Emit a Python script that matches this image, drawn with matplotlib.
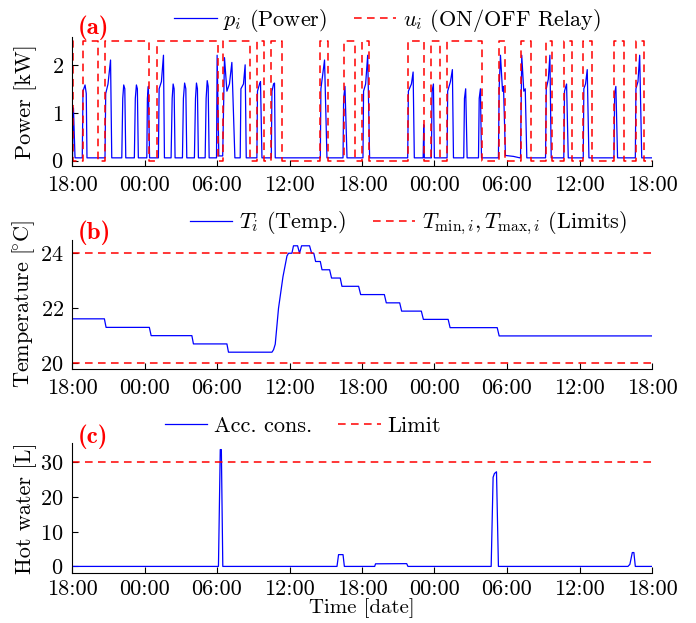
import matplotlib
matplotlib.use("Agg")
import matplotlib.pyplot as plt
import numpy as np

plt.rcParams['font.family'] = 'cmr10'
plt.rcParams['mathtext.fontset'] = 'cm'
plt.rcParams['axes.unicode_minus'] = False
plt.rcParams['axes.formatter.use_mathtext'] = True

# time axis: hours since 18:00 of the first day
tick_hours = [0, 6, 12, 18, 24, 30, 36, 42, 48]
tick_labels = ['18:00', '00:00', '06:00', '12:00', '18:00',
               '00:00', '06:00', '12:00', '18:00']

# (a) power trace breakpoints [h], [kW]
power_t = [0, 0.04, 0.12, 0.25,
           0.85, 0.91, 1.08, 1.18, 1.24,
           2.73, 2.79, 2.98, 3.19, 3.29,
           4.12, 4.20, 4.28, 4.37, 4.45,
           5.16, 5.24, 5.33, 5.41, 5.49,
           6.19, 6.24, 6.32, 6.42,
           7.15, 7.21, 7.40, 7.57, 7.65,
           8.20, 8.29, 8.37, 8.45, 8.53,
           9.14, 9.22, 9.32, 9.42, 9.50,
           10.13, 10.22, 10.30, 10.38, 10.46,
           11.02, 11.10, 11.19, 11.27, 11.35,
           11.96, 12.01, 12.15, 12.47, 12.62, 12.82, 13.03, 13.23, 13.48,
           13.92, 13.98, 14.19, 14.33, 14.42,
           15.30, 15.35, 15.52, 15.60, 15.72,
           16.49, 16.55, 16.68, 16.76, 16.82,
           20.55, 20.60, 20.90, 21.10,
           22.43, 22.48, 22.59, 22.76,
           24.08, 24.13, 24.30, 24.47, 24.63,
           27.78, 27.84, 28.09, 28.23, 28.33,
           29.06, 29.11, 29.16,
           29.74, 29.80, 29.91, 29.99,
           31.04, 31.09, 31.32, 31.48, 31.57,
           32.42, 32.48, 32.58, 32.70,
           33.64, 33.70, 33.80, 33.89,
           35.29, 35.35, 35.46, 35.63, 35.71, 35.87, 36.54, 37.06,
           37.12, 37.22, 37.39, 37.51, 37.64,
           39.19, 39.25, 39.42, 39.55, 39.66,
           40.70, 40.76, 40.93, 41.07,
           42.31, 42.36, 42.50, 42.64, 42.78,
           44.85, 44.91, 45.01, 45.15,
           46.62, 46.67, 46.84, 46.98, 47.15,
           48]
power_kw = [0.06, 0.06, 1.1, 0.06,
            0.06, 1.45, 1.58, 1.4, 0.06,
            0.06, 1.4, 1.6, 2.1, 0.06,
            0.06, 1.3, 1.58, 1.5, 0.06,
            0.06, 1.3, 1.58, 1.5, 0.06,
            0.06, 1.3, 1.55, 0.06,
            0.06, 1.5, 1.65, 2.2, 0.06,
            0.06, 1.3, 1.6, 1.5, 0.06,
            0.06, 1.3, 1.62, 1.5, 0.06,
            0.06, 1.3, 1.62, 1.5, 0.06,
            0.06, 1.3, 1.67, 1.55, 0.06,
            0.06, 2.2, 0.1, 0.1, 2.15, 1.45, 1.6, 2.05, 0.06,
            0.06, 1.5, 1.6, 2.0, 0.06,
            0.06, 1.45, 1.6, 1.65, 0.06,
            0.06, 1.45, 1.6, 1.62, 0.06,
            0.06, 1.5, 2.1, 0.06,
            0.06, 1.3, 1.55, 0.06,
            0.06, 1.45, 1.6, 2.2, 0.06,
            0.06, 1.45, 1.6, 1.85, 0.06,
            0.06, 0.75, 0.06,
            0.06, 1.45, 1.6, 0.06,
            0.06, 1.45, 1.65, 1.9, 0.06,
            0.06, 1.3, 1.5, 0.06,
            0.06, 1.3, 1.5, 0.06,
            0.06, 1.5, 2.2, 1.45, 1.55, 0.11, 0.09, 0.06,
            0.06, 2.2, 1.45, 1.5, 0.06,
            0.06, 1.5, 1.7, 2.2, 0.06,
            0.06, 1.45, 1.6, 0.06,
            0.06, 1.5, 1.6, 1.9, 0.06,
            0.06, 1.4, 1.55, 0.06,
            0.06, 1.5, 1.65, 2.2, 0.06,
            0.06]

# (a) relay switching times [h]
relay_on = [0, 0.94, 2.73, 7.04, 12.48, 15.30, 16.46, 20.55, 22.48, 24.00,
            27.78, 29.74, 31.04, 35.32, 37.17, 39.19, 40.70, 42.31, 44.85, 46.64]
relay_off = [0.11, 2.18, 6.38, 12.12, 14.69, 15.85, 17.37, 21.15, 23.45, 24.61,
             29.11, 30.49, 33.89, 35.87, 37.95, 39.74, 41.40, 43.06, 45.68, 47.33]
relay_level = 2.5

# (b) temperature breakpoints [h], [degC]
temp_t = [0, 2.68, 2.82, 6.40, 6.55, 9.92, 10.05, 12.82, 12.95, 16.55,
          16.68, 16.82, 17.09, 17.46, 17.79, 17.92, 18.20, 18.33, 18.67,
          18.83, 19.00, 19.66, 19.83, 20.01, 20.16, 20.55, 20.69, 21.32,
          21.48, 22.20, 22.34, 23.72, 23.89, 25.85, 26.01, 27.12, 27.28,
          28.91, 29.08, 31.13, 31.29, 35.19, 35.35, 48]
temp_c = [21.62, 21.62, 21.31, 21.31, 21.01, 21.01, 20.71, 20.71, 20.41, 20.41,
          20.5, 20.7, 22.0, 23.15, 23.9, 24.0, 24.0, 24.27, 24.27,
          24.0, 24.27, 24.27, 24.0, 24.0, 23.7, 23.7, 23.4, 23.4,
          23.1, 23.1, 22.8, 22.8, 22.5, 22.5, 22.2, 22.2, 21.9,
          21.9, 21.6, 21.6, 21.3, 21.3, 21.0, 21.0]
t_min, t_max = 20, 24

# (c) accumulated hot water consumption [h], [L]
water_t = [0, 12.12, 12.27, 12.36, 12.48, 21.93, 22.06, 22.43, 22.54,
           25.05, 25.12, 27.70, 27.80, 34.69, 34.85, 34.96, 35.13, 35.29,
           46.01, 46.17, 46.37, 46.50, 46.62, 48]
water_l = [0, 0, 33.7, 33.7, 0, 0, 3.4, 3.4, 0,
           0, 0.75, 0.8, 0, 0, 25.7, 26.8, 27.3, 0,
           0, 0.6, 4.0, 4.0, 0, 0]
water_limit = 30

# build relay step signal
relay_t, relay_u = [], []
for on, off in zip(relay_on, relay_off):
    relay_t += [on, off]
    relay_u += [relay_level, 0]
relay_t.append(48)
relay_u.append(0)

blue = '#0000ff'
red = '#ff0000'
fs = 16
dash = (5, 3.5)

fig = plt.figure(figsize=(6.96, 6.23), dpi=100)
left, width = 72 / 696, 580 / 696
ax_a = fig.add_axes([left, 1 - 166 / 623, width, 129 / 623])
ax_b = fig.add_axes([left, 1 - 369 / 623, width, 129 / 623])
ax_c = fig.add_axes([left, 1 - 573 / 623, width, 130 / 623])

ax_a.plot(power_t, power_kw, color=blue, lw=0.9, label=r'$p_i$ (Power)')
ax_a.step(relay_t, relay_u, where='post', color=red, lw=1.1, dashes=dash,
          label=r'$u_i$ (ON/OFF Relay)')
ax_a.set_ylim(-0.11, 2.58)
ax_a.set_yticks([0, 1, 2])
ax_a.set_ylabel('Power [kW]', fontsize=fs)

ax_b.plot(temp_t, temp_c, color=blue, lw=0.9, label=r'$T_i$ (Temp.)')
ax_b.plot([0, 48], [t_max, t_max], color=red, lw=1.1, dashes=dash,
          label=r'$T_{\min,i},T_{\max,i}$ (Limits)')
ax_b.plot([0, 48], [t_min, t_min], color=red, lw=1.1, dashes=dash)
ax_b.set_ylim(19.8, 24.48)
ax_b.set_yticks([20, 22, 24])
ax_b.set_ylabel(r'Temperature [$\!^{\circ}$C]', fontsize=fs)

ax_c.plot(water_t, water_l, color=blue, lw=0.9, label='Acc. cons.')
ax_c.plot([0, 48], [water_limit, water_limit], color=red, lw=1.1, dashes=dash,
          label='Limit')
ax_c.set_ylim(-1.9, 35.6)
ax_c.set_yticks([0, 10, 20, 30])
ax_c.set_ylabel('Hot water [L]', fontsize=fs)

legend_x = {ax_a: 0.544, ax_b: 0.58, ax_c: 0.398}
label_y = {ax_a: 1.068, ax_b: 1.054, ax_c: 1.045}
for ax, tag in zip([ax_a, ax_b, ax_c], ['(a)', '(b)', '(c)']):
    ax.set_xlim(0, 48)
    ax.set_xticks(tick_hours)
    ax.set_xticklabels(tick_labels)
    for side in ['top', 'right']:
        ax.spines[side].set_visible(False)
    ax.tick_params(direction='in', length=4, width=0.8, labelsize=fs)
    ax.tick_params(axis='x', pad=7)
    ax.tick_params(axis='y', pad=6)
    ax.yaxis.set_label_coords(-0.06, 0.5)
    ax.legend(loc='center', bbox_to_anchor=(legend_x[ax], 1.13), ncol=2,
              frameon=False, fontsize=fs, handlelength=1.9, handletextpad=0.3,
              columnspacing=1.2, borderaxespad=0, borderpad=0)
    ax.text(0.01, label_y[ax], tag, transform=ax.transAxes, color=red,
            fontfamily='cmb10', fontsize=18, va='center', ha='left')

# bottom panel: keep tick labels and axis title inside the figure
ax_c.tick_params(axis='x', pad=5)
ax_c.set_xlabel('Time [date]', fontsize=15, labelpad=-1)

fig.savefig('out.png', dpi=100)
